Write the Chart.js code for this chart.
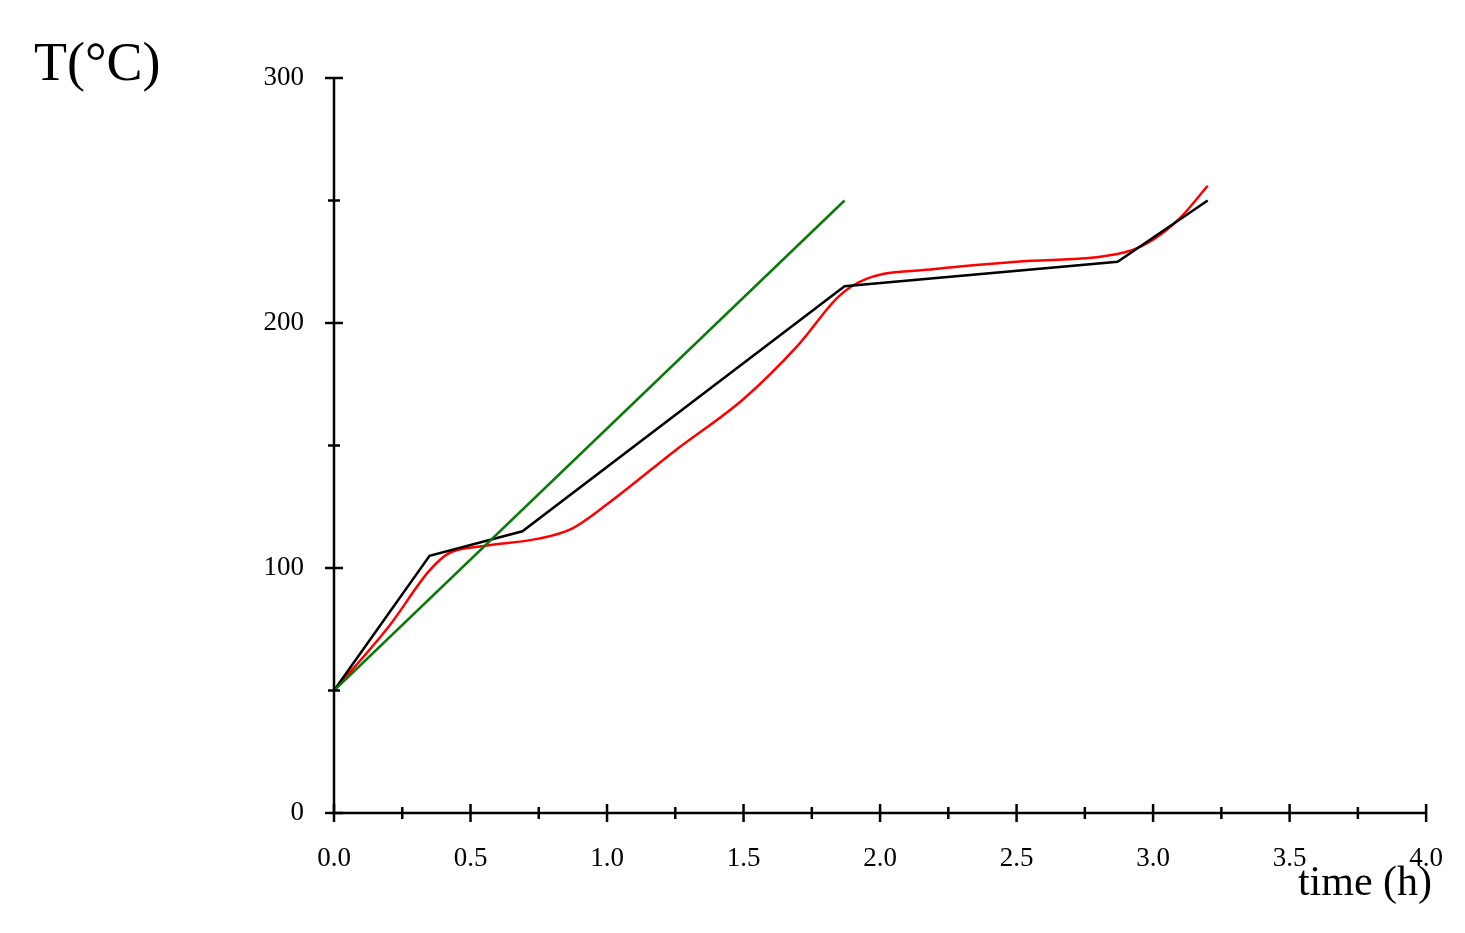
<!DOCTYPE html>
<html>
<head>
<meta charset="utf-8">
<script src="https://cdn.jsdelivr.net/npm/chart.js@4/dist/chart.umd.min.js"></script>
<style>
html, body { margin: 0; padding: 0; background: #fff; }
#wrap { width: 1465px; height: 933px; position: relative; }
</style>
</head>
<body>
<div id="wrap"><canvas id="myChart"></canvas></div>
<script>
var blackX = [0, 0.35, 0.69, 1.87, 2.87, 3.2];
var blackY = [50, 105, 115, 215, 225, 250];

var greenX = [0, 1.87];
var greenY = [50, 250];

var redX = [0, 0.2, 0.35, 0.42, 0.55, 0.75, 0.87, 1.0, 1.25, 1.5, 1.7, 1.85, 1.95, 2.2, 2.5, 2.9, 3.0, 3.1, 3.2];
var redY = [50, 76, 99, 106, 109, 112, 116, 126, 148, 169, 191, 211, 218, 222, 225, 229, 234, 243, 256];

var xTicks = [0, 0.5, 1.0, 1.5, 2.0, 2.5, 3.0, 3.5, 4.0];
var yTicks = [0, 100, 200, 300];

function pts(xs, ys) {
  return xs.map(function (x, i) { return { x: x, y: ys[i] }; });
}

var serif = "'Liberation Serif', 'DejaVu Serif', serif";

var axisTicks = {
  id: "axisTicks",
  afterDraw: function (chart) {
    var ctx = chart.ctx;
    var xs = chart.scales.x, ys = chart.scales.y;
    var a = chart.chartArea;
    ctx.save();
    ctx.strokeStyle = "#000";
    ctx.lineWidth = 2.5;
    ctx.beginPath();
    ctx.moveTo(a.left, a.top);
    ctx.lineTo(a.left, a.bottom);
    ctx.lineTo(a.right, a.bottom);
    ctx.stroke();
    for (var v = 0; v <= 4.0001; v += 0.25) {
      var px = xs.getPixelForValue(v);
      var big = Math.abs(v * 2 - Math.round(v * 2)) < 0.01;
      var h = big ? 9 : 6;
      ctx.beginPath();
      ctx.moveTo(px, a.bottom - h);
      ctx.lineTo(px, a.bottom + h);
      ctx.stroke();
    }
    for (var t = 0; t <= 300; t += 50) {
      var py = ys.getPixelForValue(t);
      var hh = t % 100 === 0 ? 9 : 6;
      ctx.beginPath();
      ctx.moveTo(a.left - hh, py);
      ctx.lineTo(a.left + hh, py);
      ctx.stroke();
    }
    ctx.fillStyle = "#000";
    ctx.font = "54px " + serif;
    ctx.textAlign = "left";
    ctx.textBaseline = "alphabetic";
    ctx.fillText("T(°C)", 34, 80);
    ctx.font = "42px " + serif;
    ctx.textAlign = "right";
    ctx.fillText("time (h)", 1432, 895);
    ctx.restore();
  }
};

new Chart("myChart", {
  type: "line",
  data: {
    datasets: [
      {
        data: pts(greenX, greenY),
        borderColor: "#0a7a0a",
        borderWidth: 2.5,
        pointRadius: 0,
        fill: false
      },
      {
        data: pts(blackX, blackY),
        borderColor: "#000",
        borderWidth: 2.5,
        pointRadius: 0,
        fill: false
      },
      {
        data: pts(redX, redY),
        borderColor: "#ff0000",
        borderWidth: 2.5,
        pointRadius: 0,
        cubicInterpolationMode: "monotone",
        fill: false
      }
    ]
  },
  options: {
    responsive: true,
    maintainAspectRatio: false,
    animation: false,
    layout: { padding: { left: 0, right: 33, top: 78, bottom: 0 } },
    plugins: { legend: { display: false }, tooltip: { enabled: false } },
    scales: {
      x: {
        type: "linear",
        min: 0,
        max: 4,
        afterBuildTicks: function (s) { s.ticks = xTicks.map(function (v) { return { value: v }; }); },
        afterFit: function (s) { s.height = 120; },
        grid: { display: false },
        border: { display: false },
        ticks: {
          color: "#000",
          font: { family: serif, size: 27 },
          padding: 22,
          maxRotation: 0,
          callback: function (v) { return Number(v).toFixed(1); }
        }
      },
      y: {
        min: 0,
        max: 300,
        afterBuildTicks: function (s) { s.ticks = yTicks.map(function (v) { return { value: v }; }); },
        afterFit: function (s) { s.width = 334; },
        grid: { display: false },
        border: { display: false },
        ticks: {
          color: "#000",
          font: { family: serif, size: 27 },
          padding: 22
        }
      }
    }
  },
  plugins: [axisTicks]
});
</script>
</body>
</html>
